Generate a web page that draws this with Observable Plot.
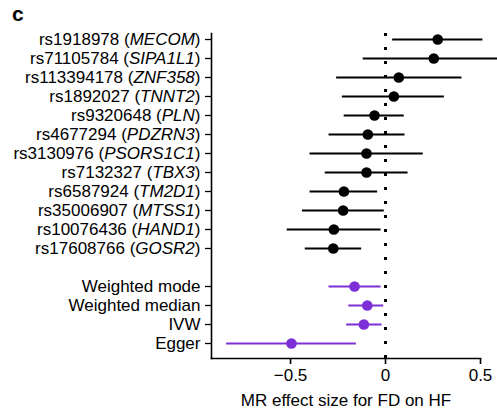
<!DOCTYPE html>
<html>
<head>
<meta charset="utf-8">
<script src="https://cdn.jsdelivr.net/npm/d3@7"></script>
<script src="https://cdn.jsdelivr.net/npm/@observablehq/plot@0.6"></script>
<style>
  html, body { margin: 0; padding: 0; background: #fff; }
  #wrap { position: relative; width: 497px; height: 410px; }
  #panel { position: absolute; left: 12px; top: 2px; font: bold 21px "Liberation Sans", Arial, sans-serif; color: #000; }
</style>
</head>
<body>
<div id="wrap"><div id="panel">c</div></div>
<script>
// SNP instruments (top group)
const snps = ["rs1918978", "rs71105784", "rs113394178", "rs1892027", "rs9320648", "rs4677294",
              "rs3130976", "rs7132327", "rs6587924", "rs35006907", "rs10076436", "rs17608766"];
const genes = ["MECOM", "SIPA1L1", "ZNF358", "TNNT2", "PLN", "PDZRN3",
               "PSORS1C1", "TBX3", "TM2D1", "MTSS1", "HAND1", "GOSR2"];
const snpEstimate = [0.275, 0.254, 0.070, 0.044, -0.058, -0.093, -0.100, -0.100, -0.219, -0.223, -0.272, -0.275];
const snpLower    = [0.035, -0.120, -0.260, -0.230, -0.220, -0.300, -0.400, -0.320, -0.400, -0.440, -0.520, -0.425];
const snpUpper    = [0.510, 0.620, 0.400, 0.307, 0.096, 0.100, 0.196, 0.116, -0.044, -0.009, -0.026, -0.128];

// MR methods (bottom group)
const methods = ["Weighted mode", "Weighted median", "IVW", "Egger"];
const methodEstimate = [-0.163, -0.096, -0.114, -0.495];
const methodLower    = [-0.300, -0.196, -0.207, -0.839];
const methodUpper    = [-0.026, -0.012, -0.021, -0.156];

const xTicks = [-0.5, 0, 0.5];
const xLabel = "MR effect size for FD on HF";

const snpLabels = snps.map((s, i) => `${s} (${genes[i]})`);
const spacer = " ";
const yDomain = [...snpLabels, spacer, ...methods];

const rows = [
  ...snpLabels.map((label, i) => ({label, est: snpEstimate[i], lo: snpLower[i], hi: snpUpper[i], group: "snp"})),
  ...methods.map((label, i) => ({label, est: methodEstimate[i], lo: methodLower[i], hi: methodUpper[i], group: "method"}))
];

const purple = "#7c2fd6";
const colorOf = d => d.group === "snp" ? "#000" : purple;

const chart = Plot.plot({
  width: 497,
  height: 410,
  marginLeft: 211,
  marginRight: 17,
  marginTop: 33,
  marginBottom: 52,
  style: {fontFamily: "'Liberation Sans', Arial, sans-serif", fontSize: "17px", color: "#000", background: "#fff"},
  x: {domain: [-0.916, 0.5]},
  y: {type: "point", domain: yDomain, padding: 0, insetTop: 2.7, insetBottom: 12.3},
  marks: [
    Plot.frame({anchor: "left", strokeWidth: 1.6}),
    Plot.frame({anchor: "bottom", strokeWidth: 1.6}),
    Plot.ruleX([0], {strokeDasharray: "3,11", strokeWidth: 3, stroke: "#000"}),
    Plot.link(rows, {x1: "lo", x2: "hi", y1: "label", y2: "label", stroke: colorOf, strokeWidth: 2, clip: false}),
    Plot.dot(rows, {x: "est", y: "label", r: 5.3, fill: colorOf, stroke: "none"}),
    Plot.axisY({ticks: [...snpLabels, ...methods], tickSize: 6, tickPadding: 5, label: null, fontSize: 17, strokeWidth: 1.3}),
    Plot.axisX({ticks: xTicks, tickSize: 6, tickPadding: 4, tickFormat: d => d === 0 ? "0" : d3.format("")(d).replace("-", "\u2212"), label: null, fontSize: 17, strokeWidth: 1.6}),
    Plot.text([xLabel], {frameAnchor: "bottom", dy: 47, fontSize: 17, text: d => d})
  ]
});

document.getElementById("wrap").prepend(chart);

// italicize gene names inside the SNP tick labels
d3.select(chart).selectAll("text").each(function() {
  const t = this.textContent;
  const m = /^(rs\d+ \()([^)]+)(\))$/.exec(t);
  if (!m) return;
  const sel = d3.select(this);
  sel.text(null);
  sel.append("tspan").text(m[1]);
  sel.append("tspan").attr("font-style", "italic").text(m[2]);
  sel.append("tspan").text(m[3]);
});
</script>
</body>
</html>
